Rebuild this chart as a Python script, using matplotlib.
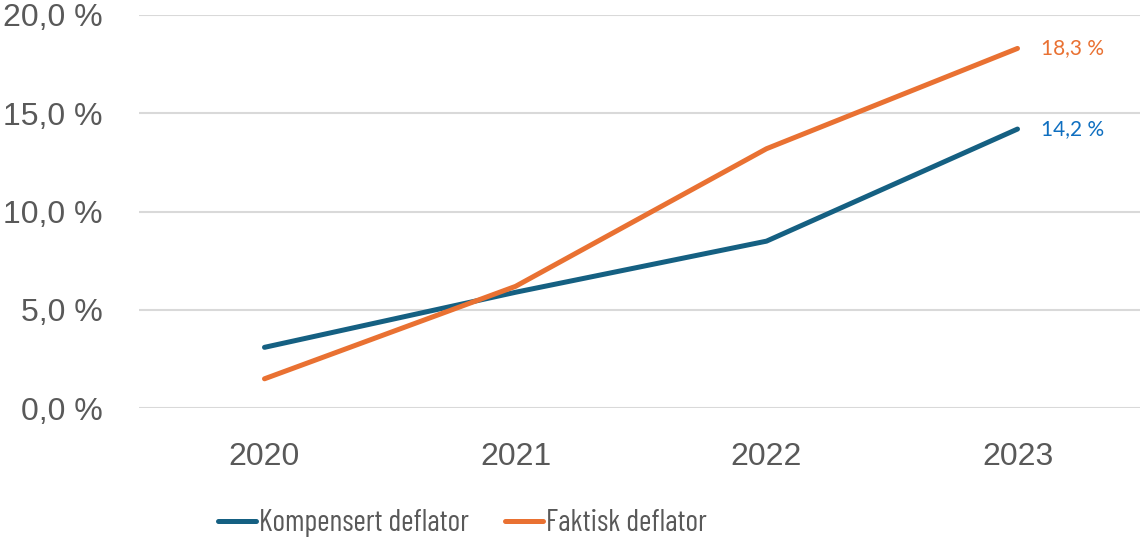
import matplotlib
matplotlib.use("Agg")
import matplotlib.pyplot as plt
from matplotlib import font_manager as fm
from matplotlib.textpath import TextPath

years = ["2020", "2021", "2022", "2023"]
kompensert = [3.1, 5.9, 8.5, 14.2]
faktisk = [1.5, 6.2, 13.2, 18.3]
yticks = [0, 5, 10, 15, 20]
series_names = ["Kompensert deflator", "Faktisk deflator"]

# pick a narrow font whose width/cap-height ratio is close to the reference legend
candidates = ["Fira Sans Extra Condensed", "Barlow Condensed", "Roboto Condensed", "Sofia Sans Condensed",
              "Sofia Sans Extra Condensed", "Saira Condensed", "Saira Extra Condensed", "Encode Sans Compressed",
              "IBM Plex Sans Condensed", "Archivo Narrow", "Fira Sans Condensed", "Encode Sans Condensed",
              "Barlow Semi Condensed", "Liberation Sans Narrow"]
target_ratio = 207 / 26.0
best = None
for name in candidates:
    files = [f for f in fm.fontManager.ttflist if f.name == name and f.style == "normal"
             and f.weight in (400, "normal", "regular") and "[" not in f.fname]
    if not files:
        continue
    fp = fm.FontProperties(fname=files[0].fname)
    try:
        w = TextPath((0, 0), series_names[0], size=100, prop=fp).get_extents().width
        h = TextPath((0, 0), "K", size=100, prop=fp).get_extents().height
    except Exception:
        continue
    score = abs(w / h - target_ratio)
    if best is None or score < best[0]:
        best = (score, fp, w)
if best is None:
    leg_fp = fm.FontProperties(family="DejaVu Sans")
    w100 = TextPath((0, 0), series_names[0], size=100, prop=leg_fp).get_extents().width
else:
    _, leg_fp, w100 = best
leg_size = 207 * 72 / w100
leg_fp.set_size(leg_size)
fs_px = leg_size * 100 / 72

blue = "#156082"
orange = "#E97132"
grey = "#595959"

fig = plt.figure(figsize=(11.4, 5.48), dpi=100)
ax = fig.add_axes([139/1140, 1-408.3/548, 1-139/1140, (408.3-15)/548])

x = list(range(len(years)))
ax.plot(x, kompensert, color=blue, lw=3.6, solid_capstyle="round", label=series_names[0], zorder=3)
ax.plot(x, faktisk, color=orange, lw=3.6, solid_capstyle="round", label=series_names[1], zorder=3)

ax.set_xlim(-0.5, 3.5 - 3/251)
ax.set_ylim(0, 20)
ax.set_yticks(yticks)
ax.set_yticklabels([f"{v:.1f}".replace(".", ",") + " %" for v in yticks],
                   fontfamily="Liberation Sans", fontsize=23, color=grey)
ax.set_xticks(x)
ax.set_xticklabels(years, fontfamily="Liberation Sans", fontsize=23, color=grey)
ax.tick_params(axis="y", length=0, pad=26)
ax.tick_params(axis="x", length=0, pad=24)
for s in ax.spines.values():
    s.set_visible(False)
ax.grid(axis="y", color="#D9D9D9", lw=1.5, zorder=0)
ax.set_axisbelow(True)

ax.annotate(f"{faktisk[-1]:.1f}".replace(".", ",") + " %", (x[-1], faktisk[-1]),
            xytext=(17, 0), textcoords="offset points", va="center", ha="left",
            fontsize=15, color=orange, fontfamily="Lato")
ax.annotate(f"{kompensert[-1]:.1f}".replace(".", ",") + " %", (x[-1], kompensert[-1]),
            xytext=(17, 0), textcoords="offset points", va="center", ha="left",
            fontsize=15, color="#0F6FC0", fontfamily="Lato")

leg = fig.legend(loc="center", bbox_to_anchor=(462/1140, 1-523/548), ncol=2, frameon=False,
                 prop=leg_fp, handlelength=38/fs_px, handletextpad=3/fs_px,
                 columnspacing=36/fs_px, borderaxespad=0, borderpad=0)
for t in leg.get_texts():
    t.set_color(grey)

fig.savefig("out.png", dpi=100)
